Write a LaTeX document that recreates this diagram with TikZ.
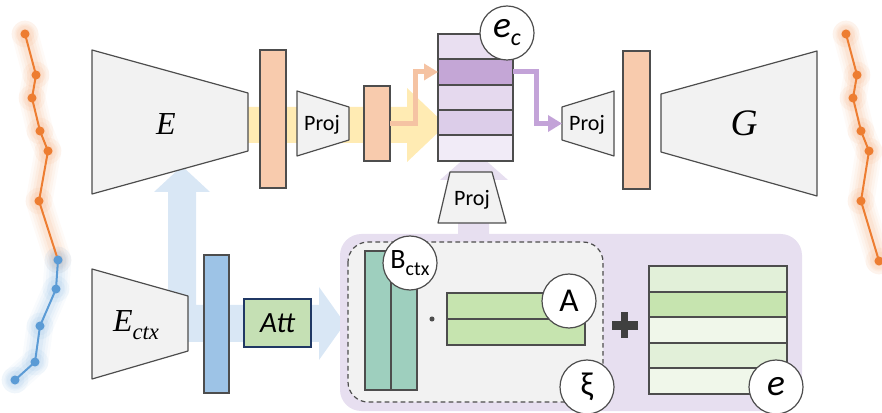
\documentclass[tikz,border=0pt]{standalone}
\usepackage{fontspec}
\usetikzlibrary{arrows.meta}
\newfontfamily\carl{Carlito}
\newfontfamily\tnr{Liberation Serif}
\definecolor{edge}{HTML}{4D4D4D}
\definecolor{trapfill}{HTML}{F2F2F2}
\definecolor{orangebar}{HTML}{F8CBAD}
\definecolor{bluebar}{HTML}{9DC3E6}
\definecolor{yband}{HTML}{FFEBB3}
\definecolor{lblue}{HTML}{D9E7F5}
\definecolor{attfill}{HTML}{C5E0B4}
\definecolor{attedge}{HTML}{203864}
\definecolor{teal}{HTML}{9ECFBE}
\definecolor{pbox}{HTML}{E7DFF0}
\definecolor{rA}{HTML}{E9DFF1}
\definecolor{rB}{HTML}{C4A6D6}
\definecolor{rC}{HTML}{E5D9EE}
\definecolor{rD}{HTML}{DCCDE9}
\definecolor{rE}{HTML}{F1EBF7}
\definecolor{parrow}{HTML}{C3A3D8}
\definecolor{oarrow}{HTML}{F5C3A3}
\definecolor{gA}{HTML}{E2F0D9}
\definecolor{gB}{HTML}{C6E4AF}
\definecolor{gC}{HTML}{F0F7EA}
\definecolor{plusc}{HTML}{404040}
\definecolor{lineo}{HTML}{ED7D31}
\definecolor{lineb}{HTML}{5B9BD5}
\newcommand\mybox[7]{\node[#1, minimum width={(#5-#3)*0.75pt}, minimum height={(#6-#4)*0.75pt}] (#2) at ({(#3+#5)/2},{(#4+#6)/2}) {#7};}
\tikzset{
  shp/.style={draw=edge, line width=0.9pt},
  trap/.style={shp, fill=trapfill, line join=round},
  rbox/.style={shp, inner sep=0pt, outer sep=0pt},
  circ/.style={circle, draw=edge, fill=white, line width=0.9pt, minimum size=40.5pt, inner sep=0pt},
  lbl/.style={inner sep=0pt},
  glowline/.style={line width=#1, line join=round, line cap=round},
  pline/.style={line width=1.5pt, line join=round},
}
\begin{document}
\begin{tikzpicture}[x=0.75pt,y=-0.75pt]
\useasboundingbox (0,0) rectangle (882,413);

% polyline points
\coordinate (l1) at (25,34); \coordinate (l2) at (36,75); \coordinate (l3) at (32,98);
\coordinate (l4) at (40,131); \coordinate (l5) at (48,151); \coordinate (l6) at (39,201);
\coordinate (b1) at (58,260); \coordinate (b2) at (56,289); \coordinate (b3) at (40,326);
\coordinate (b4) at (35,362); \coordinate (b5) at (15,380);
\coordinate (q1) at (846,34); \coordinate (q2) at (857,75); \coordinate (q3) at (853,98);
\coordinate (q4) at (861,131); \coordinate (q5) at (869,151); \coordinate (q6) at (861,201);
\coordinate (q7) at (879,261);

% glows
\foreach \w/\o in {20pt/0.04, 16pt/0.05, 12pt/0.06, 8pt/0.08}{
  \draw[lineo, opacity=\o, glowline=\w] (l1)--(l2)--(l3)--(l4)--(l5)--(l6)--(b1);
  \draw[lineb, opacity=\o, glowline=\w] (b1)--(b2)--(b3)--(b4)--(b5);
  \draw[lineo, opacity=\o, glowline=\w] (q1)--(q2)--(q3)--(q4)--(q5)--(q6)--(q7);
}
\foreach \p in {l1,l2,l3,l4,l5,l6,q1,q2,q3,q4,q5,q6,q7}{\fill[lineo, opacity=0.06] (\p) circle (10pt); \fill[lineo, opacity=0.06] (\p) circle (7pt);}
\foreach \p in {b1,b2,b3,b4,b5}{\fill[lineb, opacity=0.06] (\p) circle (10pt); \fill[lineb, opacity=0.06] (\p) circle (7pt);}
% lines
\draw[lineo, pline] (l1)--(l2)--(l3)--(l4)--(l5)--(l6)--(b1);
\draw[lineb, pline] (b1)--(b2)--(b3)--(b4)--(b5);
\draw[lineo, pline] (q1)--(q2)--(q3)--(q4)--(q5)--(q6)--(q7);
\foreach \p in {l1,l2,l3,l4,l5,l6,q1,q2,q3,q4,q5,q6,q7}{\fill[lineo] (\p) circle (3.4pt);}
\foreach \p in {b1,b2,b3,b4,b5}{\fill[lineb] (\p) circle (3.4pt);}

% fat arrows
\fill[yband] (248,107) -- (407,107) -- (407,88) -- (446,125) -- (407,162) -- (407,143) -- (248,143) -- cycle;
\fill[lblue] (168,342) -- (168,192) -- (154,192) -- (182,166) -- (210,192) -- (196,192) -- (196,305)
  -- (319,305) -- (319,287) -- (345,323.5) -- (319,360) -- (319,342) -- cycle;
\fill[pbox] (458,240) -- (458,180) -- (440,180) -- (474,150) -- (508,180) -- (489,180) -- (489,240) -- cycle;

% big purple box and dashed box
\fill[pbox, rounded corners=16pt] (340,234) rectangle (802,411);
\draw[edge, fill=trapfill, dashed, dash pattern=on 3.5pt off 2.5pt, line width=0.9pt, rounded corners=15pt] (348,242) rectangle (603,402);

% encoders / decoders
\draw[trap] (92,50)--(248,93)--(248,151)--(92,194)--cycle;
\node[lbl] (Et) at (166,124) {\fontsize{24}{24}\selectfont\tnr\itshape E};
\draw[trap] (92,269)--(188,296)--(188,351)--(92,379)--cycle;
\node[lbl] (Ectxt) at (136,325) {\fontsize{24}{24}\selectfont\tnr\itshape E\raisebox{-6pt}{\fontsize{17}{17}\selectfont ctx}};
\draw[trap] (661,94)--(817,51)--(817,196)--(661,152)--cycle;
\node[lbl] (Gt) at (744,123) {\fontsize{28}{28}\selectfont\tnr\itshape G};
\draw[trap] (297,91)--(349,107)--(349,140)--(297,156)--cycle;
\node[lbl] (p1) at (322,125) {\fontsize{16.5}{16.5}\selectfont\carl Proj};
\draw[trap] (562,107)--(614,91)--(614,156)--(562,140)--cycle;
\node[lbl] (p2) at (587,125) {\fontsize{16.5}{16.5}\selectfont\carl Proj};
\coordinate (p2w) at (562,123.5);
\draw[trap] (450,172)--(492,172)--(506,223)--(438,223)--cycle;
\node[lbl] (p3) at (472,200) {\fontsize{16.5}{16.5}\selectfont\carl Proj};

% bars
\mybox{rbox, fill=orangebar}{bar1}{260}{50}{286}{188}{}
\mybox{rbox, fill=orangebar}{bar2}{364}{86}{390}{161}{}
\mybox{rbox, fill=orangebar}{bar3}{623}{51}{650}{189}{}
\mybox{rbox, fill=bluebar}{bbar}{204}{255}{229}{393}{}
\mybox{rbox, fill=attfill, draw=attedge}{att}{244}{299}{311}{347}{\fontsize{22}{22}\selectfont\carl\itshape Att}

% e_c stack
\mybox{rbox, fill=rA}{r1}{438}{34}{513}{59}{}
\mybox{rbox, fill=rB}{r2}{438}{59}{513}{85}{}
\mybox{rbox, fill=rC}{r3}{438}{85}{513}{110}{}
\mybox{rbox, fill=rD}{r4}{438}{110}{513}{135}{}
\mybox{rbox, fill=rE}{r5}{438}{135}{513}{161}{}

% small arrows
\draw[oarrow, line width=3.75pt, -{Triangle[length=10.5pt, width=12pt]}] (bar2.east) -- ++(25.5,0) |- (r2.west);
\draw[parrow, line width=3.75pt, -{Triangle[length=10.5pt, width=12pt]}] (r2.east) -- ++(23,0) |- (p2w);

% xi block
\mybox{rbox, fill=teal}{tb1}{365}{251}{391}{390}{}
\mybox{rbox, fill=teal}{tb2}{391}{251}{417}{390}{}
\node[circle, fill=edge, inner sep=0pt, minimum size=3.8pt] (dot) at (432,319) {};
\mybox{rbox, fill=gB}{a1}{447}{293}{585}{319}{}
\mybox{rbox, fill=gB}{a2}{447}{319}{585}{345}{}

% plus
\fill[plusc] (612,321) rectangle (638,330);
\fill[plusc] (621,312) rectangle (628,338);

% e stack
\mybox{rbox, fill=gA}{g1}{649}{266}{787}{292}{}
\mybox{rbox, fill=gB}{g2}{649}{292}{787}{317}{}
\mybox{rbox, fill=gC}{g3}{649}{317}{787}{343}{}
\mybox{rbox, fill=gA}{g4}{649}{343}{787}{368}{}
\mybox{rbox, fill=gC}{g5}{649}{368}{787}{394}{}

% circles
\node[circ] (ec) at (507,33) {\carl\itshape\fontsize{28}{28}\selectfont e\raisebox{-6pt}{\fontsize{18}{18}\selectfont c}};
\node[circ] (bc) at (410,263) {\carl\fontsize{21}{21}\selectfont B\raisebox{-5pt}{\fontsize{15}{15}\selectfont ctx}};
\node[circ] (ac) at (569,301) {\carl\fontsize{25}{25}\selectfont A};
\node[circ] (xc) at (587,387) {\carl\fontsize{25}{25}\selectfont ξ};
\node[circ] (eec) at (776,387) {\carl\itshape\fontsize{28}{28}\selectfont e};
\end{tikzpicture}
\end{document}
